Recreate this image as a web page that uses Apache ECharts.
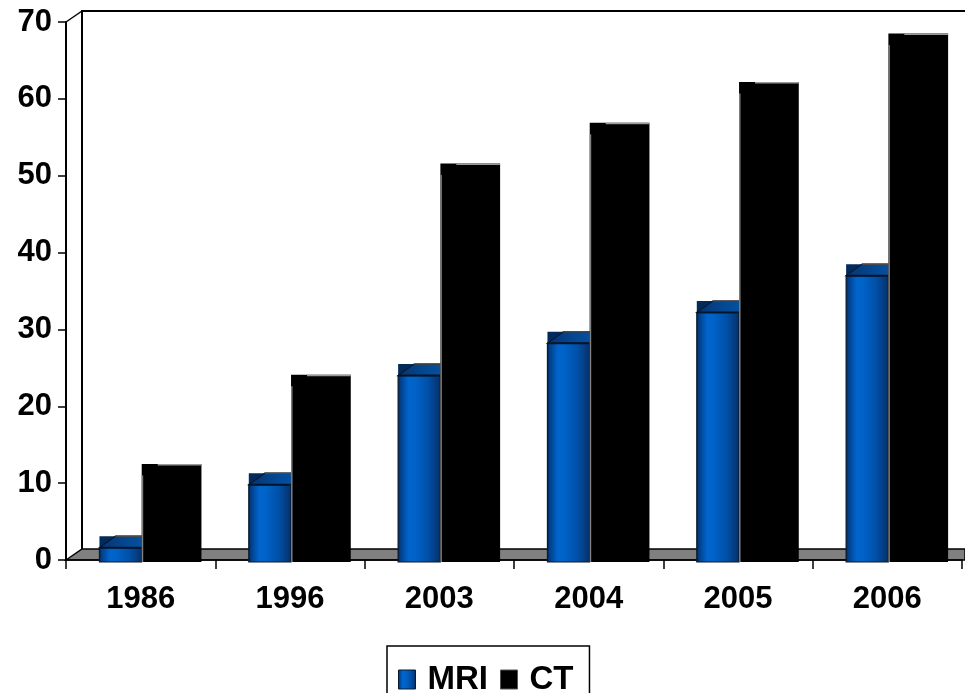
<!DOCTYPE html>
<html>
<head>
<meta charset="utf-8">
<script src="https://cdn.jsdelivr.net/npm/echarts@6/dist/echarts.min.js"></script>
<style>
  html, body { margin: 0; padding: 0; background: #fff; }
  #chart { width: 965px; height: 693px; }
</style>
</head>
<body>
<div id="chart"></div>
<script>
// Exams per year (values read against the front value axis)
const years = ['1986', '1996', '2003', '2004', '2005', '2006'];
const mriValues = [1.6, 9.8, 24.0, 28.2, 32.2, 37.0];
const ctValues = [11.0, 22.6, 50.1, 55.4, 60.7, 67.0];
const yTicks = { min: 0, max: 70, step: 10 };

const W = 965, H = 693;
const GRID = { left: 66, top: 22, right: 3, bottom: 133 };
const FONT = '"Liberation Sans", Arial, sans-serif';

// Pseudo-3D depth offset of the column box
const DEPTH_DX = 0.107; // fraction of the category band
const DEPTH_DY = 11.5;

function hGrad(stops) {
  return new echarts.graphic.LinearGradient(0, 0, 1, 0,
    stops.map(s => ({ offset: s[0], color: s[1] })));
}

const mriFront = () => hGrad([
  [0, '#001c44'], [0.06, '#033d86'], [0.25, '#0064cc'], [0.4, '#0063c8'],
  [0.7, '#0050a8'], [0.9, '#053a7c'], [1, '#062c62']
]);
const mriTop = () => hGrad([[0, '#06346e'], [0.5, '#044995'], [1, '#0458ac']]);

function columnRenderer(kind) {
  return function (params, api) {
    const i = api.value(0);
    const v = api.value(1);
    const pt = api.coord([i, v]);
    const base = api.coord([i, 0]);
    const band = api.size([1, 0])[0];
    const c = pt[0];
    const yt = pt[1];
    const yb = base[1] + 2;
    const dx = band * DEPTH_DX;
    const dy = DEPTH_DY;
    let x0, x1;
    if (kind === 'mri') {
      x0 = c - band * 0.276;
      x1 = c + band * 0.007;
    } else {
      x0 = c + band * 0.007;
      x1 = c + band * 0.30;
    }

    if (kind === 'mri') {
      return {
        type: 'group',
        children: [
          { // box behind the top face
            type: 'rect',
            shape: { x: x0, y: yt - dy, width: x1 + dx - x0, height: dy },
            style: { fill: '#022a5a' }
          },
          { // top face
            type: 'polygon',
            shape: { points: [[x0, yt], [x0 + dx, yt - dy], [x1 + dx, yt - dy], [x1, yt]] },
            style: { fill: mriTop(), stroke: '#071a36', lineWidth: 1.2 }
          },
          { // back edge of the top
            type: 'line',
            shape: { x1: x0 + dx, y1: yt - dy, x2: x1 + dx, y2: yt - dy },
            style: { stroke: '#4a4a4a', lineWidth: 1.5 }
          },
          { // front face
            type: 'rect',
            shape: { x: x0, y: yt, width: x1 - x0, height: yb - yt },
            style: { fill: mriFront(), stroke: '#0a1a30', lineWidth: 1.2 }
          },
          {
            type: 'line',
            shape: { x1: x0, y1: yt, x2: x1, y2: yt },
            style: { stroke: '#061428', lineWidth: 2 }
          }
        ]
      };
    }
    return {
      type: 'group',
      children: [
        {
          type: 'rect',
          shape: { x: x0, y: yt - dy, width: x1 + dx - x0, height: yb - (yt - dy) },
          style: { fill: '#000' }
        },
        { // front-left edge
          type: 'line',
          shape: { x1: x0 + 0.75, y1: yt, x2: x0 + 0.75, y2: yb },
          style: { stroke: '#808080', lineWidth: 1.5 }
        },
        { // back edge of the top
          type: 'line',
          shape: { x1: x0 + dx, y1: yt - dy + 0.75, x2: x1 + dx, y2: yt - dy + 0.75 },
          style: { stroke: '#9a9a9a', lineWidth: 1.5 }
        }
      ]
    };
  };
}

// Back wall and floor of the 3D frame
const xL = GRID.left;
const y0 = H - GRID.bottom;
const yT = GRID.top;
const wallDx = 16, wallDy = 11;

const frame = [
  {
    type: 'polygon', z: 0, silent: true,
    shape: { points: [[xL, y0], [xL + wallDx, y0 - wallDy], [W, y0 - wallDy], [W, y0]] },
    style: { fill: '#808080', stroke: '#000', lineWidth: 1.5 }
  },
  {
    type: 'polyline', z: 0, silent: true,
    shape: { points: [[xL + wallDx, y0 - wallDy], [xL + wallDx, yT - wallDy], [W, yT - wallDy]] },
    style: { fill: null, stroke: '#000', lineWidth: 2 }
  },
  {
    type: 'line', z: 0, silent: true,
    shape: { x1: xL, y1: yT, x2: xL + wallDx, y2: yT - wallDy },
    style: { stroke: '#000', lineWidth: 1.5 }
  }
];

const chart = echarts.init(document.getElementById('chart'), null, { renderer: 'canvas' });
chart.setOption({
  animation: false,
  backgroundColor: '#fff',
  grid: { left: GRID.left, top: GRID.top, right: GRID.right, bottom: GRID.bottom, containLabel: false },
  graphic: frame,
  legend: {
    left: 387,
    top: 646,
    orient: 'horizontal',
    borderColor: '#000',
    borderWidth: 1.5,
    padding: [17, 16, 40, 11],
    itemGap: 12,
    itemWidth: 17,
    itemHeight: 19,
    textStyle: { fontFamily: FONT, fontWeight: 'bold', fontSize: 33, color: '#000', lineHeight: 20, padding: [0, 0, 0, 7] },
    data: [
      { name: 'MRI', icon: 'rect', itemStyle: { color: mriFront(), borderColor: '#0a1a30', borderWidth: 1 } },
      { name: 'CT', icon: 'rect', itemStyle: { color: '#000', borderColor: '#555', borderWidth: 1 } }
    ]
  },
  xAxis: {
    type: 'category',
    data: years,
    boundaryGap: true,
    axisLine: { show: true, lineStyle: { color: '#000', width: 1.5 } },
    axisTick: { show: true, length: 9, lineStyle: { color: '#000', width: 1.5 } },
    axisLabel: { margin: 24, fontFamily: FONT, fontWeight: 'bold', fontSize: 31, color: '#000' },
    splitLine: { show: false }
  },
  yAxis: {
    type: 'value',
    min: yTicks.min,
    max: yTicks.max,
    interval: yTicks.step,
    axisLine: { show: true, lineStyle: { color: '#000', width: 2 } },
    axisTick: { show: true, length: 8, lineStyle: { color: '#000', width: 1.5 } },
    axisLabel: { margin: 14, fontFamily: FONT, fontWeight: 'bold', fontSize: 31, color: '#000' },
    splitLine: { show: false }
  },
  series: [
    {
      name: 'MRI',
      type: 'custom',
      renderItem: columnRenderer('mri'),
      itemStyle: { color: '#0060c0' },
      encode: { x: 0, y: 1 },
      data: mriValues.map((v, i) => [i, v]),
      z: 3
    },
    {
      name: 'CT',
      type: 'custom',
      renderItem: columnRenderer('ct'),
      itemStyle: { color: '#000' },
      encode: { x: 0, y: 1 },
      data: ctValues.map((v, i) => [i, v]),
      z: 4
    }
  ]
});
</script>
</body>
</html>
